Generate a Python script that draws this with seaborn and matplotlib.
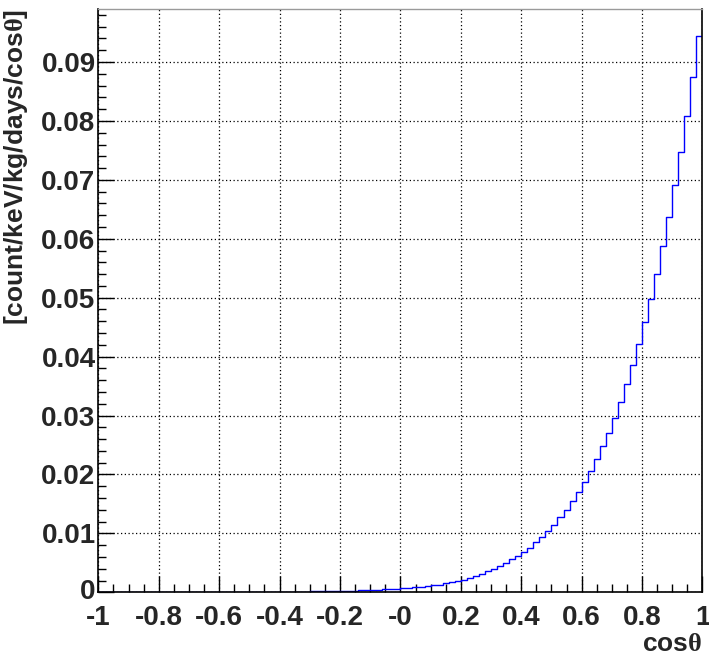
import numpy as np
import matplotlib
matplotlib.use("Agg")
import matplotlib.pyplot as plt
from matplotlib.ticker import MultipleLocator
from matplotlib.transforms import ScaledTranslation
import seaborn as sns

# Bin layout: 100 bins of width 0.02 over cos(theta) in [-1, 1]
bin_lo, bin_hi, n_bins = -1.0, 1.0, 100
bin_centers = np.arange(n_bins) * 0.02 + bin_lo + 0.01

# Rate per bin [count/keV/kg/days/cos(theta)], bins with cos(theta) < 0
rate_negative = [
    0.0000035, 0.000004, 0.0000045, 0.000005, 0.0000055,
    0.000006, 0.0000065, 0.000007, 0.000008, 0.000009,
    0.00001, 0.000011, 0.000012, 0.000013, 0.000014,
    0.000016, 0.000018, 0.00002, 0.000022, 0.000024,
    0.000027, 0.00003, 0.000034, 0.000038, 0.000042,
    0.000047, 0.000052, 0.000058, 0.000065, 0.00007,
    0.00008, 0.00009, 0.0001, 0.00011, 0.00012,
    0.00014, 0.00015, 0.00017, 0.00019, 0.00021,
    0.00023, 0.00026, 0.00029, 0.00032, 0.00036,
    0.0004, 0.00044, 0.00049, 0.00054, 0.0006,
]
# Rate per bin, bins with cos(theta) >= 0
rate_positive = [
    0.00067, 0.00075, 0.00085, 0.00095, 0.00105,
    0.0012, 0.0013, 0.0015, 0.0017, 0.0019,
    0.0021, 0.0024, 0.0027, 0.0031, 0.0036,
    0.0040, 0.0045, 0.0050, 0.0056, 0.0062,
    0.0068, 0.0076, 0.0085, 0.0094, 0.0104,
    0.0115, 0.0127, 0.0140, 0.0155, 0.0170,
    0.0187, 0.0206, 0.0226, 0.0248, 0.0271,
    0.0296, 0.0323, 0.0353, 0.0386, 0.0421,
    0.0458, 0.0498, 0.0541, 0.0588, 0.0637,
    0.0692, 0.0748, 0.0809, 0.0874, 0.0944,
]
rate = rate_negative + rate_positive

x_tick_values = [-1.0, -0.8, -0.6, -0.4, -0.2, 0.0, 0.2, 0.4, 0.6, 0.8, 1.0]
x_tick_labels = ["-1", "-0.8", "-0.6", "-0.4", "-0.2", "-0", "0.2", "0.4", "0.6", "0.8", "1"]
y_tick_values = [0.0, 0.01, 0.02, 0.03, 0.04, 0.05, 0.06, 0.07, 0.08, 0.09]
y_tick_labels = ["0", "0.01", "0.02", "0.03", "0.04", "0.05", "0.06", "0.07", "0.08", "0.09"]

sns.set_style("white")
plt.rcParams["font.family"] = ["Liberation Sans", "DejaVu Sans"]
plt.rcParams["font.weight"] = "bold"
# upright serif theta inside the axis titles
plt.rcParams["mathtext.fontset"] = "custom"
plt.rcParams["mathtext.rm"] = "Liberation Serif"
plt.rcParams["mathtext.it"] = "Liberation Serif"

fig = plt.figure(figsize=(7.09, 6.57), dpi=100)
ax = fig.add_axes([0.1387, 0.0985, 0.8521, 0.8878])

sns.histplot(x=bin_centers, weights=rate, bins=n_bins, binrange=(bin_lo, bin_hi),
             element="step", fill=False, color="#0000ff", linewidth=1.0, ax=ax)

ax.set_xlim(bin_lo, bin_hi)
ax.set_ylim(0, 0.099)

ax.set_xticks(x_tick_values)
ax.set_xticklabels(x_tick_labels)
ax.set_yticks(y_tick_values)
ax.set_yticklabels(y_tick_labels)
ax.xaxis.set_minor_locator(MultipleLocator(0.05))
ax.yaxis.set_minor_locator(MultipleLocator(0.002))

tick_font = 20
ax.tick_params(axis="x", which="major", direction="in", length=11.7, width=1.0,
               color="black", labelsize=tick_font, pad=9, bottom=True, top=False)
ax.tick_params(axis="x", which="minor", direction="in", length=5.9, width=1.0,
               color="black", bottom=True, top=False)
ax.tick_params(axis="y", which="major", direction="in", length=11.5, width=1.0,
               color="black", labelsize=tick_font, pad=2, left=True, right=False)
ax.tick_params(axis="y", which="minor", direction="in", length=5.8, width=1.0,
               color="black", left=True, right=False)
for lab in ax.get_xticklabels() + ax.get_yticklabels():
    lab.set_fontweight("bold")
# lift the "0" on the value axis a little so it clears the "-1" below it
zero_label = ax.get_yticklabels()[0]
zero_label.set_transform(zero_label.get_transform()
                         + ScaledTranslation(0, 3 / 100, fig.dpi_scale_trans))

ax.grid(True, which="major", color="black", linestyle=(0, (1, 2)), linewidth=0.9)
ax.set_axisbelow(True)

for side in ["left", "bottom", "right"]:
    ax.spines[side].set_color("black")
    ax.spines[side].set_linewidth(1.2)
ax.spines["top"].set_color("#9a9a9a")
ax.spines["top"].set_linewidth(1.0)

ax.set_xlabel(r"cos$\mathrm{\theta}$", fontsize=19, fontweight="bold", loc="right",
              labelpad=1)
ax.set_ylabel(r"[count/keV/kg/days/cos$\mathrm{\theta}$]", fontsize=19,
              fontweight="bold", loc="top", labelpad=8)

fig.savefig("out.png", dpi=100)
